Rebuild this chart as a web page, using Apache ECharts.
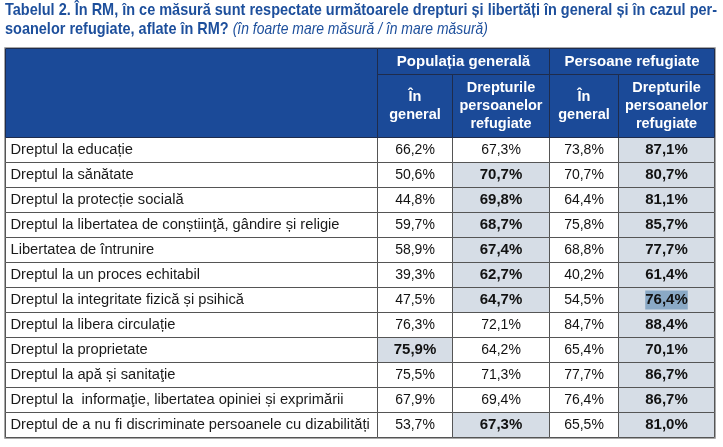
<!DOCTYPE html>
<html><head><meta charset="utf-8">
<script src="https://cdn.jsdelivr.net/npm/echarts@6/dist/echarts.min.js"></script>
<style>html,body{margin:0;padding:0;background:#fff}#c{width:723px;height:447px}</style>
</head><body><div id="c"></div><script>
// ---- data ----
const rights = [
  'Dreptul la educație',
  'Dreptul la sănătate',
  'Dreptul la protecție socială',
  'Dreptul la libertatea de conștiinţă, gândire și religie',
  'Libertatea de întrunire',
  'Dreptul la un proces echitabil',
  'Dreptul la integritate fizică și psihică',
  'Dreptul la libera circulație',
  'Dreptul la proprietate',
  'Dreptul la apă și sanitaţie',
  'Dreptul la  informaţie, libertatea opiniei și exprimării',
  'Dreptul de a nu fi discriminate persoanele cu dizabilități'
];
const popGeneral  = [66.2, 50.6, 44.8, 59.7, 58.9, 39.3, 47.5, 76.3, 75.9, 75.5, 67.9, 53.7];
const popRefugees = [67.3, 70.7, 69.8, 68.7, 67.4, 62.7, 64.7, 72.1, 64.2, 71.3, 69.4, 67.3];
const refGeneral  = [73.8, 70.7, 64.4, 75.8, 68.8, 40.2, 54.5, 84.7, 65.4, 77.7, 76.4, 65.5];
const refRefugees = [87.1, 80.7, 81.1, 85.7, 77.7, 61.4, 76.4, 88.4, 70.1, 86.7, 86.7, 81.0];
// highlighted (bold, shaded) cells
const popGeneralHi  = [0,0,0,0,0,0,0,0,1,0,0,0];
const popRefugeesHi = [0,1,1,1,1,1,1,0,0,0,0,1];
const refGeneralHi  = [0,0,0,0,0,0,0,0,0,0,0,0];
const refRefugeesHi = [1,1,1,1,1,1,1,1,1,1,1,1];
const groupHeaders = ['Populația generală', 'Persoane refugiate'];
const subHeaders = ['În\ngeneral', 'Drepturile\npersoanelor\nrefugiate', 'În\ngeneral', 'Drepturile\npersoanelor\nrefugiate'];
const titleLine1 = 'Tabelul 2. În RM, în ce măsură sunt respectate următoarele drepturi și libertăți în general și în cazul per-';
const titleLine2 = 'soanelor refugiate, aflate în RM?';
const titleNote = '(în foarte mare măsură / în mare măsură)';

// ---- layout & style ----
const colEdges = [5.5, 377.5, 452.5, 549.5, 618.5, 714.5];
const headTop = 48.5, headMid = 74.5, dataTop = 137.5, rowH = 25;
const BLUE = '#1b4a98', HEAD_LINE = '#1f2c4c', CELL_LINE = '#555555', HI = '#d6dde6';
const TITLE_BLUE = '#1d4f9c';
const FONT = 'Liberation Sans';

const valueCols = [popGeneral, popRefugees, refGeneral, refRefugees];
const hiCols = [popGeneralHi, popRefugeesHi, refGeneralHi, refRefugeesHi];
const selected = {col: 3, row: 6}; // text selection highlight seen in the source

const grids = [], xAxes = [], yAxes = [], series = [];
function addGrid(left, right, top, height, nRows) {
  const i = grids.length;
  grids.push({left: left, top: top, width: right - left, height: height, containLabel: false});
  xAxes.push({type: 'category', gridIndex: i, data: [''], show: false});
  const cats = []; for (let k = 0; k < nRows; k++) cats.push(String(k));
  yAxes.push({type: 'category', gridIndex: i, data: cats, inverse: true, show: false});
  return i;
}
function fmt(v) { return v.toFixed(1).replace('.', ',') + '%'; }

function cellSeries(gi, n, getCell) {
  const data = []; for (let k = 0; k < n; k++) data.push([0, k]);
  series.push({
    type: 'custom', xAxisIndex: gi, yAxisIndex: gi, silent: true, animation: false,
    data: data,
    renderItem: function (params, api) {
      const c = api.coord([api.value(0), api.value(1)]);
      const s = api.size([1, 1]);
      const cell = getCell(params.dataIndex);
      const x0 = c[0] - s[0] / 2, y0 = c[1] - s[1] / 2;
      const tx = cell.align === 'left' ? x0 + 5 : c[0];
      const ts = {
        text: cell.text, x: tx, y: c[1] + (cell.dy || 0),
        fill: cell.color, font: cell.font,
        textAlign: cell.align || 'center', textVerticalAlign: 'middle',
        lineHeight: cell.lineHeight || 18
      };
      if (cell.textBg) { ts.backgroundColor = cell.textBg; ts.padding = [1, 0, 0, 0]; }
      return {type: 'group', children: [
        {type: 'rect', shape: {x: x0, y: y0, width: s[0], height: s[1]},
         style: {fill: cell.fill, stroke: cell.stroke, lineWidth: 1}},
        {type: 'text', style: ts}
      ]};
    }
  });
}

const nRows = rights.length;
const dataH = rowH * nRows;
// label column
const g0 = addGrid(colEdges[0], colEdges[1], dataTop, dataH, nRows);
cellSeries(g0, nRows, function (i) {
  return {text: rights[i], fill: '#fff', stroke: CELL_LINE, color: '#1a1a1a',
          font: '14.7px "' + FONT + '"', align: 'left'};
});
// value columns
valueCols.forEach(function (vals, c) {
  const g = addGrid(colEdges[c + 1], colEdges[c + 2], dataTop, dataH, nRows);
  cellSeries(g, nRows, function (i) {
    const hi = hiCols[c][i] === 1;
    const cell = {text: fmt(vals[i]), fill: hi ? HI : '#fff', stroke: CELL_LINE, color: '#111',
      font: (hi ? 'bold 15px "' : '14px "') + FONT + '"'};
    if (selected.col === c && selected.row === i) cell.textBg = '#8aa9c6';
    return cell;
  });
});
// header: merged first column
const h0 = addGrid(colEdges[0], colEdges[1], headTop, dataTop - headTop, 1);
cellSeries(h0, 1, function () {
  return {text: '', fill: BLUE, stroke: HEAD_LINE, color: '#fff', font: 'bold 14px "' + FONT + '"'};
});
// group headers
groupHeaders.forEach(function (t, k) {
  const g = addGrid(colEdges[1 + 2 * k], colEdges[3 + 2 * k], headTop, headMid - headTop, 1);
  cellSeries(g, 1, function () {
    return {text: t, fill: BLUE, stroke: HEAD_LINE, color: '#fff', font: 'bold 15px "' + FONT + '"'};
  });
});
// sub headers
subHeaders.forEach(function (t, k) {
  const g = addGrid(colEdges[1 + k], colEdges[2 + k], headMid, dataTop - headMid, 1);
  cellSeries(g, 1, function () {
    return {text: t, fill: BLUE, stroke: HEAD_LINE, color: '#fff', font: 'bold 14.5px "' + FONT + '"', lineHeight: 18};
  });
});

// title: condensed look via horizontal scaling
const TITLE_FONT_B = 'bold 17px "' + FONT + '"';
const TITLE_FONT_I = 'italic 17px "' + FONT + '"';
const mctx = document.createElement('canvas').getContext('2d');
mctx.font = TITLE_FONT_B;
const line1W = mctx.measureText(titleLine1).width;
const titleScale = (717 - 5) / line1W;
const line2End = 5 + mctx.measureText(titleLine2).width * titleScale;
const noteStart = line2End + 4;
mctx.font = TITLE_FONT_I;
const noteScale = (488 - noteStart) / mctx.measureText(titleNote).width;

const chart = echarts.init(document.getElementById('c'), null, {renderer: 'canvas'});
chart.setOption({
  animation: false,
  backgroundColor: '#ffffff',
  grid: grids, xAxis: xAxes, yAxis: yAxes, series: series,
  graphic: [
    {type: 'group', x: 5, y: 0, scaleX: titleScale, silent: true, children: [
      {type: 'text', x: 0, y: 10.5, style: {text: titleLine1, font: TITLE_FONT_B, fill: TITLE_BLUE, textVerticalAlign: 'middle'}},
      {type: 'text', x: 0, y: 29.5, style: {text: titleLine2, font: TITLE_FONT_B, fill: TITLE_BLUE, textVerticalAlign: 'middle'}}
    ]},
    {type: 'group', x: noteStart, y: 0, scaleX: noteScale, silent: true, children: [
      {type: 'text', x: 0, y: 29.5, style: {text: titleNote, font: TITLE_FONT_I, fill: TITLE_BLUE, textVerticalAlign: 'middle'}}
    ]},
    {
      type: 'rect', silent: true, z: 100,
      shape: {x: colEdges[0] - 1, y: headTop - 1, width: colEdges[5] - colEdges[0] + 2, height: dataTop + dataH - headTop + 2},
      style: {fill: 'none', stroke: '#a8a8a8', lineWidth: 1}
    }
  ]
});
</script></body></html>
